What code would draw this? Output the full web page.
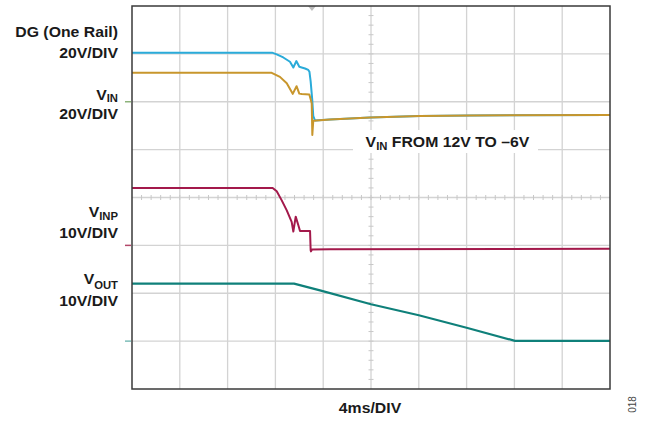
<!DOCTYPE html>
<html>
<head>
<meta charset="utf-8">
<script src="https://cdn.jsdelivr.net/npm/d3@7"></script>
<style>
  body { margin: 0; background: #fff; }
  svg { display: block; font-family: "Liberation Sans", Arial, sans-serif; }
</style>
</head>
<body>
<div id="scope"></div>
<script>
//size of the whole picture
var width = 651,
  height = 423;

//scope screen: 10 divisions of 4ms across, 8 divisions up
var timePerDiv = 4;
var xDivs = 10,
  yDivs = 8;
var triggerTime = 15.06; //ms, the little triangle on top

//each channel: volts per division and ground position (in divisions from the center)
var dgScale = 20, dgGround = 2;
var vinScale = 20, vinGround = 2;
var vinpScale = 10, vinpGround = -1;
var voutScale = 10, voutGround = -3;

//traces, time in ms and value in volts
var dgTime = [0, 11.72, 12.11, 12.66, 13.22, 13.5, 13.75, 14.0, 14.2, 14.48, 14.75, 14.85, 14.95, 15.08, 15.17, 15.31, 16.57, 19.92, 24.1, 28.28, 40];
var dgVolts = [20.5, 20.5, 19.8, 18.5, 16.7, 14.3, 17.0, 14.6, 14.3, 13.9, 13.3, 12.5, 8.5, 1.0, -6.0, -7.8, -7.4, -6.6, -6.0, -5.7, -5.55];

var vinTime = [0, 11.69, 12.38, 12.95, 13.45, 13.77, 14.0, 14.2, 14.84, 14.95, 15.04, 15.09, 15.17, 16.57, 19.92, 24.1, 28.28, 40];
var vinVolts = [12.1, 12.1, 10.4, 7.7, 3.3, 6.5, 3.4, 3.2, 3.0, 1.0, -0.7, -13.9, -7.9, -7.4, -6.6, -6.0, -5.7, -5.55];

var vinpTime = [0, 11.77, 12.11, 12.53, 12.95, 13.36, 13.5, 13.7, 13.92, 14.06, 14.9, 14.95, 14.98, 15.06, 16.57, 40];
var vinpVolts = [12.0, 12.0, 11.3, 9.4, 7.3, 4.9, 2.9, 6.0, 4.2, 3.0, 3.0, -1.0, -1.25, -0.85, -0.8, -0.7];

var voutTime = [0, 13.56, 15.73, 20.0, 24.0, 28.0, 32.05, 40];
var voutVolts = [12.0, 12.0, 10.6, 7.7, 5.4, 2.8, 0.05, 0.05];

//plot area in pixels (plotTop, because "top" is taken by the window)
var plotLeft = 132,
  plotRight = 610,
  plotTop = 6,
  plotBottom = 389;

var x = d3
  .scaleLinear()
  .domain([0, xDivs * timePerDiv])
  .range([plotLeft, plotRight]);

//y in divisions, 0 is the center line
var y = d3
  .scaleLinear()
  .domain([-yDivs / 2, yDivs / 2])
  .range([plotBottom, plotTop]);

var svg = d3
  .select("#scope")
  .append("svg")
  .attr("width", width)
  .attr("height", height);

//grid lines every division
svg
  .selectAll("line.vgrid")
  .data(d3.range(1, xDivs))
  .enter()
  .append("line")
  .attr("class", "vgrid")
  .attr("x1", function(d) { return x(d * timePerDiv); })
  .attr("x2", function(d) { return x(d * timePerDiv); })
  .attr("y1", plotTop)
  .attr("y2", plotBottom)
  .attr("stroke", "#d3d3d3")
  .attr("stroke-width", 1.3);

svg
  .selectAll("line.hgrid")
  .data(d3.range(-yDivs / 2 + 1, yDivs / 2))
  .enter()
  .append("line")
  .attr("class", "hgrid")
  .attr("x1", plotLeft)
  .attr("x2", plotRight)
  .attr("y1", function(d) { return y(d); })
  .attr("y2", function(d) { return y(d); })
  .attr("stroke", "#d3d3d3")
  .attr("stroke-width", 1.3);

//minor ticks on the two center lines, 5 per division
svg
  .selectAll("line.xminor")
  .data(d3.range(1, xDivs * 5))
  .enter()
  .append("line")
  .attr("class", "xminor")
  .attr("x1", function(d) { return x((d / 5) * timePerDiv); })
  .attr("x2", function(d) { return x((d / 5) * timePerDiv); })
  .attr("y1", y(0) - 2.5)
  .attr("y2", y(0) + 2.5)
  .attr("stroke", "#c8c8c8")
  .attr("stroke-width", 1);

svg
  .selectAll("line.yminor")
  .data(d3.range(1, yDivs * 5))
  .enter()
  .append("line")
  .attr("class", "yminor")
  .attr("x1", x((xDivs / 2) * timePerDiv) - 2.5)
  .attr("x2", x((xDivs / 2) * timePerDiv) + 2.5)
  .attr("y1", function(d) { return y(d / 5 - yDivs / 2); })
  .attr("y2", function(d) { return y(d / 5 - yDivs / 2); })
  .attr("stroke", "#c8c8c8")
  .attr("stroke-width", 1);

//white box behind the note
svg
  .append("rect")
  .attr("x", 353)
  .attr("y", 130)
  .attr("width", 185)
  .attr("height", 23)
  .attr("fill", "#fff");

//trigger triangle
var tx = x(triggerTime);
svg
  .append("path")
  .attr("d", "M" + (tx - 4) + "," + plotTop + "L" + (tx + 4) + "," + plotTop + "L" + tx + "," + (plotTop + 5) + "Z")
  .attr("fill", "#bdbdbd");

//ground markers on the left edge
var grounds = [
  { level: vinGround, color: "#8db37a" },
  { level: vinpGround, color: "#b3486a" },
  { level: voutGround, color: "#7dbdb8" }
];
svg
  .selectAll("line.ground")
  .data(grounds)
  .enter()
  .append("line")
  .attr("class", "ground")
  .attr("x1", plotLeft - 7)
  .attr("x2", plotLeft - 1)
  .attr("y1", function(g) { return y(g.level); })
  .attr("y2", function(g) { return y(g.level); })
  .attr("stroke", function(g) { return g.color; })
  .attr("stroke-width", 1.5);

//draws one channel from its time and volts arrays
function drawTrace(times, volts, vdiv, ground, color, widthPx) {
  var line = d3
    .line()
    .x(function(d) { return x(d[0]); })
    .y(function(d) { return y(ground + d[1] / vdiv); });
  svg
    .append("path")
    .datum(d3.zip(times, volts))
    .attr("d", line)
    .attr("fill", "none")
    .attr("stroke", color)
    .attr("stroke-width", widthPx)
    .attr("stroke-linejoin", "round");
}

drawTrace(voutTime, voutVolts, voutScale, voutGround, "#0f807a", 2.2);
drawTrace(vinpTime, vinpVolts, vinpScale, vinpGround, "#a3194b", 2);
drawTrace(dgTime, dgVolts, dgScale, dgGround, "#2aabd9", 2);
drawTrace(vinTime, vinVolts, vinScale, vinGround, "#c8962c", 2);

//frame
svg
  .append("rect")
  .attr("x", plotLeft)
  .attr("y", plotTop)
  .attr("width", plotRight - plotLeft)
  .attr("height", plotBottom - plotTop)
  .attr("fill", "none")
  .attr("stroke", "#3a3a3a")
  .attr("stroke-width", 1.5);

//labels, the original type is a bit wide so it gets stretched
var stretch = 1.13;
function label(px, py, anchor, main, sub, rest, subDy) {
  var t = svg
    .append("text")
    .attr("transform", "translate(" + px + "," + py + ") scale(" + stretch + ",1)")
    .attr("text-anchor", anchor)
    .attr("font-size", 14)
    .attr("font-weight", "bold")
    .attr("fill", "#1a1a1a");
  t.append("tspan").text(main);
  if (sub) {
    t.append("tspan")
      .attr("font-size", 10)
      .attr("dy", subDy)
      .text(sub);
  }
  if (rest) {
    t.append("tspan")
      .attr("dy", -subDy)
      .text(rest);
  }
}

label(118, 37, "end", "DG (One Rail)");
label(118, 57.5, "end", "20V/DIV");
label(118, 100, "end", "V", "IN", null, 1.5);
label(118, 118.5, "end", "20V/DIV");
label(118, 216.5, "end", "V", "INP", null, 3.5);
label(118, 237.5, "end", "10V/DIV");
label(118, 284, "end", "V", "OUT", null, 4.5);
label(118, 306, "end", "10V/DIV");
label(447.5, 146.5, "middle", "V", "IN", " FROM 12V TO \u20136V", 3.5);
label(370, 412.5, "middle", "4ms/DIV");

//figure number on the right
svg
  .append("text")
  .attr("transform", "translate(636,404.5) rotate(-90)")
  .attr("text-anchor", "middle")
  .attr("font-size", 10)
  .attr("fill", "#444")
  .text("018");
</script>
</body>
</html>
